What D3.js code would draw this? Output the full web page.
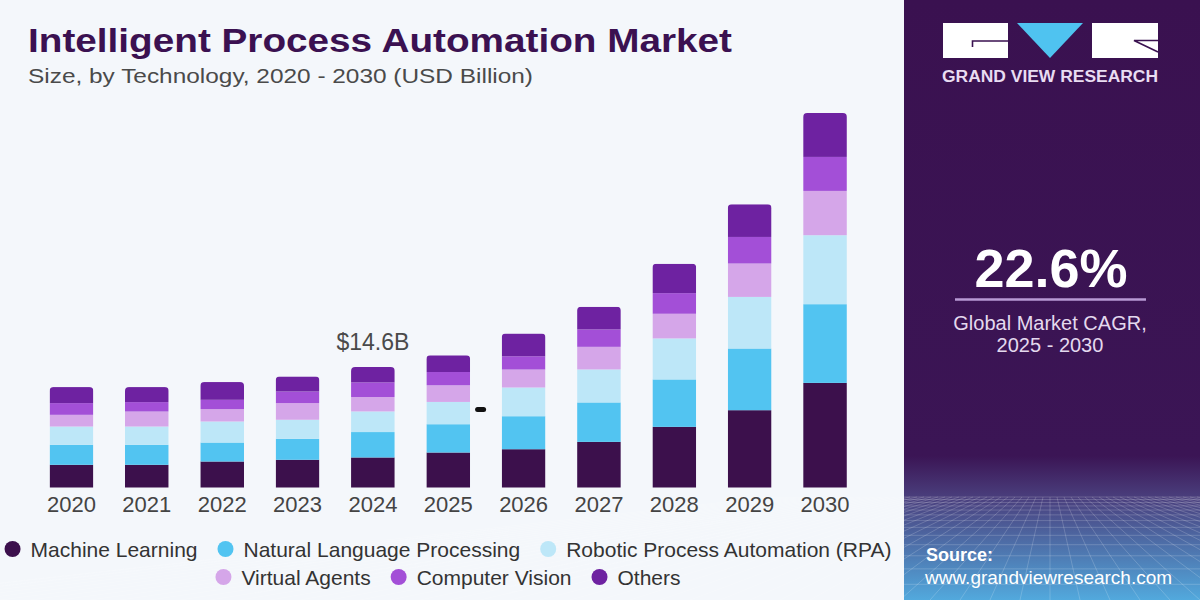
<!DOCTYPE html>
<html>
<head>
<meta charset="utf-8">
<script src="https://cdn.jsdelivr.net/npm/d3@7"></script>
<style>
  body { margin: 0; background: #f4f7fb; }
  svg { display: block; font-family: "Liberation Sans", Arial, sans-serif; }
</style>
</head>
<body>
<svg class="chart" width="1200" height="600"></svg>
<script>
// market size by technology, USD billion
const years = ['2020','2021','2022','2023','2024','2025','2026','2027','2028','2029','2030']
const machineLearning = [2.75, 2.75, 3.15, 3.36, 3.64, 4.24, 4.64, 5.53, 7.35, 9.37, 12.68]
const nlp = [2.42, 2.42, 2.30, 2.55, 3.08, 3.43, 4.00, 4.78, 5.75, 7.48, 9.54]
const rpa = [2.22, 2.22, 2.55, 2.30, 2.50, 2.70, 3.48, 4.00, 4.97, 6.25, 8.36]
const virtualAgents = [1.42, 1.82, 1.50, 2.02, 1.75, 2.02, 2.18, 2.74, 2.99, 4.05, 5.37]
const computerVision = [1.42, 1.14, 1.13, 1.41, 1.77, 1.61, 1.61, 2.11, 2.50, 3.22, 4.12]
const others = [1.94, 1.82, 2.15, 1.82, 1.87, 2.02, 2.75, 2.74, 3.56, 3.96, 5.33]

const seriesNames = ['Machine Learning','Natural Language Processing','Robotic Process Automation (RPA)','Virtual Agents','Computer Vision','Others']
const seriesColors = ['#3c104c','#52c4f1','#bde7f8','#d5a6e9','#a34fd7','#6e22a1']
const legendRows = [[0,1,2],[3,4,5]]
const calloutYear = '2024'
const calloutText = '$14.6B'
const cagrValue = '22.6%'
const cagrLines = ['Global Market CAGR,', '2025 - 2030']

const svg = d3.select('.chart')
const W = 1200, H = 600, panelX = 904

const rows = years.map((yr, i) => ({
  year: yr,
  ml: machineLearning[i], nlp: nlp[i], rpa: rpa[i],
  va: virtualAgents[i], cv: computerVision[i], other: others[i]
}))
const keys = ['ml','nlp','rpa','va','cv','other']

function drawBackground() {
  svg.append('rect').attr('width', W).attr('height', H).attr('fill', '#f4f7fb')

  const defs = svg.append('defs')
  const grad = defs.append('linearGradient')
    .attr('id', 'panelGrad').attr('x1', 0).attr('y1', 0).attr('x2', 0).attr('y2', 1)
  grad.append('stop').attr('offset', '0%').attr('stop-color', '#3a1150')
  grad.append('stop').attr('offset', '76%').attr('stop-color', '#3b1555')
  grad.append('stop').attr('offset', '83%').attr('stop-color', '#4a3f7d')
  grad.append('stop').attr('offset', '100%').attr('stop-color', '#52a9dd')

  svg.append('rect')
    .attr('x', panelX).attr('y', 0)
    .attr('width', W - panelX).attr('height', H)
    .attr('fill', 'url(#panelGrad)')

  // perspective grid at the bottom of the panel
  const grid = svg.append('g').attr('class', 'panel-grid')
    .attr('stroke', '#ffffff').attr('stroke-opacity', 0.18).attr('stroke-width', 1)
  let gy = 497, step = 2.5
  while (gy < H) {
    grid.append('line').attr('x1', panelX).attr('x2', W).attr('y1', gy).attr('y2', gy)
    gy += step
    step *= 1.18
  }
  d3.range(-40, 41).forEach(k => {
    grid.append('line')
      .attr('x1', 1050 + k * 7).attr('y1', 497)
      .attr('x2', 1050 + k * 30).attr('y2', H)
  })
}

function drawTitles() {
  svg.append('text')
    .attr('x', 28).attr('y', 52)
    .attr('font-size', 33).attr('font-weight', 900)
    .attr('fill', '#3b1151')
    .attr('textLength', 704).attr('lengthAdjust', 'spacingAndGlyphs')
    .text('Intelligent Process Automation Market')

  svg.append('text')
    .attr('x', 28).attr('y', 83)
    .attr('font-size', 21)
    .attr('fill', '#4a4a4a')
    .attr('textLength', 505).attr('lengthAdjust', 'spacingAndGlyphs')
    .text('Size, by Technology, 2020 - 2030 (USD Billion)')
}

function drawBars() {
  const x = d3.scaleBand()
    .domain(years)
    .range([33.8, 862.7])
    .paddingInner(0.42)
    .paddingOuter(0.21)

  const y = d3.scaleLinear()
    .domain([0, 50])
    .range([487.5, 487.5 - 50 * 8.25])

  const stacked = d3.stack().keys(keys)(rows)
  const color = d3.scaleOrdinal(keys, seriesColors)

  const defs = svg.select('defs')
  rows.forEach((d, i) => {
    const total = d3.sum(keys, k => d[k])
    defs.append('clipPath').attr('id', 'bar-clip-' + i)
      .append('rect')
      .attr('x', x(d.year)).attr('y', y(total))
      .attr('width', x.bandwidth()).attr('height', y(0) - y(total) + 10)
      .attr('rx', 4)
  })

  const bars = svg.append('g').attr('class', 'bars')
  bars.selectAll('g')
    .data(rows)
    .enter()
    .append('g')
    .attr('clip-path', (d, i) => `url(#bar-clip-${i})`)
    .selectAll('rect')
    .data((d, i) => stacked.map(s => ({ key: s.key, seg: s[i], year: d.year })))
    .enter()
    .append('rect')
    .attr('x', d => x(d.year))
    .attr('width', x.bandwidth())
    .attr('y', d => y(d.seg[1]))
    .attr('height', d => y(d.seg[0]) - y(d.seg[1]))
    .attr('fill', d => color(d.key))

  // year labels
  const axis = d3.axisBottom(x).tickSize(0).tickPadding(0)
  const axisG = svg.append('g')
    .attr('transform', `translate(0, ${y(0)})`)
    .call(axis)
  axisG.select('.domain').remove()
  axisG.selectAll('text')
    .attr('y', 24.5).attr('dy', 0)
    .attr('font-size', 22)
    .attr('font-family', '"Liberation Sans", Arial, sans-serif')
    .attr('fill', '#444')

  // value callout
  const calloutRow = rows.find(d => d.year === calloutYear)
  const calloutTotal = d3.sum(keys, k => calloutRow[k])
  svg.append('text')
    .attr('x', x(calloutYear) + x.bandwidth() / 2)
    .attr('y', y(calloutTotal) - 17)
    .attr('text-anchor', 'middle')
    .attr('font-size', 23)
    .attr('fill', '#4a4a4a')
    .text(calloutText)

  // small stray dash next to 2025
  svg.append('rect')
    .attr('x', x('2025') + x.bandwidth() + 5).attr('y', 407)
    .attr('width', 11).attr('height', 5).attr('rx', 2.5)
    .attr('fill', '#111')
}

function drawLegend() {
  const legend = svg.append('g').attr('class', 'legend')
  const rowY = [549, 577]
  legendRows.forEach((idxs, r) => {
    const row = legend.append('g')
    let cursor = 0
    idxs.forEach(i => {
      const item = row.append('g').attr('transform', `translate(${cursor}, ${rowY[r]})`)
      item.append('circle').attr('cx', 8).attr('cy', 0).attr('r', 8).attr('fill', seriesColors[i])
      const t = item.append('text')
        .attr('x', 26).attr('y', 7.5)
        .attr('font-size', 21)
        .attr('fill', '#333')
        .text(seriesNames[i])
      cursor += 26 + t.node().getComputedTextLength() + 20
    })
    const width = cursor - 20
    row.attr('transform', `translate(${448 - width / 2}, 0)`)
  })
}

function drawPanel() {
  const logo = svg.append('g').attr('class', 'logo')
  logo.append('rect').attr('x', 943).attr('y', 23).attr('width', 65).attr('height', 35).attr('fill', '#fff')
  logo.append('path').attr('d', 'M972.5,47 V41 H1008').attr('fill', 'none').attr('stroke', '#3a1150').attr('stroke-width', 1.6)
  logo.append('path').attr('d', 'M1017,23 H1083 L1050,58 Z').attr('fill', '#4fc3f0')
  logo.append('rect').attr('x', 1092).attr('y', 23).attr('width', 66).attr('height', 35).attr('fill', '#fff')
  logo.append('path').attr('d', 'M1158,40.5 H1134 L1158,52').attr('fill', 'none').attr('stroke', '#3a1150').attr('stroke-width', 1.6)
  logo.append('text')
    .attr('x', 942).attr('y', 82)
    .attr('font-size', 16).attr('font-weight', 700)
    .attr('fill', '#e9ddf2')
    .attr('textLength', 216).attr('lengthAdjust', 'spacingAndGlyphs')
    .text('GRAND VIEW RESEARCH')

  svg.append('text')
    .attr('x', 1051).attr('y', 287)
    .attr('text-anchor', 'middle')
    .attr('font-size', 54).attr('font-weight', 700)
    .attr('fill', '#ffffff')
    .text(cagrValue)

  svg.append('line')
    .attr('x1', 955).attr('x2', 1146).attr('y1', 299.5).attr('y2', 299.5)
    .attr('stroke', '#b89ad4').attr('stroke-width', 2.5)

  svg.selectAll('.cagr-note')
    .data(cagrLines)
    .enter()
    .append('text')
    .attr('class', 'cagr-note')
    .attr('x', 1050)
    .attr('y', (d, i) => 330 + i * 22)
    .attr('text-anchor', 'middle')
    .attr('font-size', 20)
    .attr('fill', '#e4d9ee')
    .text(d => d)

  svg.append('text')
    .attr('x', 926).attr('y', 561)
    .attr('font-size', 18).attr('font-weight', 700)
    .attr('fill', '#ffffff')
    .text('Source:')
  svg.append('text')
    .attr('x', 925).attr('y', 584)
    .attr('font-size', 19)
    .attr('fill', '#ffffff')
    .text('www.grandviewresearch.com')
}

drawBackground()
drawTitles()
drawBars()
drawLegend()
drawPanel()
</script>
</body>
</html>
